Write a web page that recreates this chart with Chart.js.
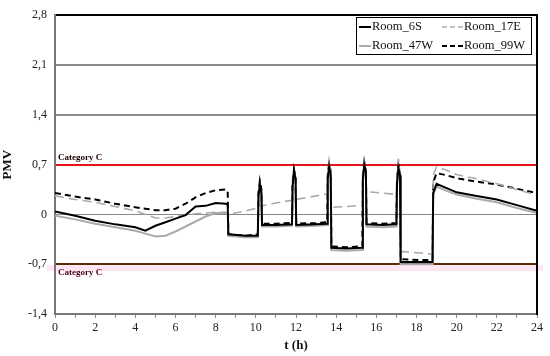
<!DOCTYPE html>
<html>
<head>
<meta charset="utf-8">
<script src="https://cdn.jsdelivr.net/npm/chart.js@4/dist/chart.umd.min.js"></script>
<style>
  html, body { margin: 0; padding: 0; background: #fff; }
  #wrap { width: 550px; height: 356px; position: relative; }
</style>
</head>
<body>
<div id="wrap"><canvas id="graficoPMV"></canvas></div>
<script>
// hours of the day (shared x values)
var hours = [0, 1, 2, 3, 4, 4.5, 5, 5.5, 6, 6.5, 7, 7.5, 8, 8.5, 8.6, 8.63, 9.5,
  10.1, 10.13, 10.2, 10.28, 10.31, 11,
  11.8, 11.83, 11.9, 11.98, 12.01, 13,
  13.55, 13.58, 13.65, 13.73, 13.76, 14.5,
  15.3, 15.33, 15.4, 15.48, 15.51, 16.3,
  17.0, 17.03, 17.1, 17.18, 17.21, 18.1,
  18.8, 18.83, 19.0, 19.5, 20, 21, 22, 23, 24];

var room6S = [0.04, -0.02, -0.09, -0.14, -0.18, -0.23, -0.16, -0.11, -0.06, -0.01, 0.11, 0.12, 0.16, 0.15, 0.14, -0.28, -0.30,
  -0.30, 0.25, 0.42, 0.3, -0.15, -0.15,
  -0.14, 0.4, 0.62, 0.5, -0.15, -0.14,
  -0.13, 0.5, 0.68, 0.55, -0.47, -0.48,
  -0.47, 0.5, 0.7, 0.6, -0.14, -0.15,
  -0.14, 0.45, 0.65, 0.55, -0.67, -0.67,
  -0.67, 0.3, 0.43, 0.37, 0.31, 0.26, 0.21, 0.13, 0.05];

var room17E = [0.26, 0.21, 0.17, 0.11, 0.05, 0.0, -0.05, -0.05, -0.03, -0.01, 0.01, 0.02, 0.03, 0.03, 0.02, 0.0, 0.05,
  0.09, 0.12, 0.14, 0.13, 0.12, 0.16,
  0.2, 0.22, 0.24, 0.22, 0.21, 0.26,
  0.29, 0.5, 0.75, 0.6, 0.1, 0.11,
  0.13, 0.5, 0.78, 0.6, 0.32, 0.3,
  0.28, 0.5, 0.78, 0.6, -0.52, -0.54,
  -0.56, 0.55, 0.67, 0.62, 0.56, 0.5, 0.43, 0.35, 0.27];

var room47W = [-0.02, -0.07, -0.13, -0.18, -0.23, -0.27, -0.31, -0.30, -0.24, -0.17, -0.10, -0.03, 0.02, 0.02, 0.01, -0.30, -0.32,
  -0.32, 0.2, 0.38, 0.28, -0.17, -0.17,
  -0.16, 0.35, 0.58, 0.45, -0.17, -0.16,
  -0.15, 0.45, 0.65, 0.5, -0.50, -0.51,
  -0.50, 0.45, 0.68, 0.55, -0.17, -0.18,
  -0.17, 0.4, 0.62, 0.5, -0.70, -0.70,
  -0.70, 0.28, 0.39, 0.33, 0.28, 0.22, 0.17, 0.09, 0.02];

var room99W = [0.30, 0.25, 0.21, 0.15, 0.10, 0.08, 0.06, 0.06, 0.08, 0.15, 0.24, 0.30, 0.34, 0.35, 0.33, -0.28, -0.30,
  -0.28, 0.3, 0.47, 0.35, -0.13, -0.13,
  -0.12, 0.45, 0.63, 0.5, -0.13, -0.12,
  -0.11, 0.55, 0.72, 0.6, -0.45, -0.46,
  -0.45, 0.55, 0.73, 0.6, -0.12, -0.13,
  -0.12, 0.5, 0.7, 0.6, -0.63, -0.64,
  -0.64, 0.45, 0.58, 0.55, 0.51, 0.46, 0.42, 0.36, 0.30];

var yTicks = [-1.4, -0.7, 0, 0.7, 1.4, 2.1, 2.8];
var categoryLimits = [0.7, -0.7];
var categoryLabel = 'Category C';

var serif = "'Liberation Serif', 'Times New Roman', serif";

function pts(arr) {
  return hours.map(function (t, i) { return { x: t, y: arr[i] }; });
}
function near(a, b) { return Math.abs(a - b) < 1e-6; }

var series = [
  { label: 'Room_6S', data: room6S, color: '#000', width: 2, dash: [] },
  { label: 'Room_17E', data: room17E, color: '#aaa', width: 1.6, dash: [9, 5] },
  { label: 'Room_47W', data: room47W, color: '#aaa', width: 2, dash: [] },
  { label: 'Room_99W', data: room99W, color: '#000', width: 2, dash: [6, 4] }
];

// extras: pink band, right border, Category C labels, legend box
var extrasPlugin = {
  id: 'extras',
  beforeDraw: function (chart) {
    var ctx = chart.ctx, y = chart.scales.y, area = chart.chartArea;
    var yl = y.getPixelForValue(categoryLimits[1]);
    ctx.save();
    ctx.fillStyle = '#fde6f2';
    ctx.fillRect(area.left - 8, yl + 1, area.right - area.left + 14, 6);
    ctx.restore();
  },
  afterDraw: function (chart) {
    var ctx = chart.ctx, y = chart.scales.y, area = chart.chartArea;
    ctx.save();
    ctx.strokeStyle = '#000';
    ctx.lineWidth = 2;
    ctx.beginPath();
    ctx.moveTo(area.right, area.top - 1);
    ctx.lineTo(area.right, area.bottom + 1);
    ctx.stroke();

    ctx.font = 'bold 9px ' + serif;
    ctx.textAlign = 'left';
    ctx.textBaseline = 'middle';
    ctx.fillStyle = '#1a0000';
    ctx.fillText(categoryLabel, area.left + 3, y.getPixelForValue(categoryLimits[0]) - 7);
    ctx.fillStyle = '#4a0010';
    ctx.fillText(categoryLabel, area.left + 3, y.getPixelForValue(categoryLimits[1]) + 8);

    // legend
    var bx = 356, by = 17, bw = 175, bh = 37;
    ctx.fillStyle = '#fff';
    ctx.fillRect(bx, by, bw, bh);
    ctx.strokeStyle = '#000';
    ctx.lineWidth = 1;
    ctx.strokeRect(bx + 0.5, by + 0.5, bw, bh);
    var cols = [{ x0: 359, x1: 371 }, { x0: 442, x1: 463 }];
    var rows = [27, 46];
    ctx.font = '12.5px ' + serif;
    ctx.textBaseline = 'middle';
    series.forEach(function (s, i) {
      var c = cols[i % 2], r = rows[Math.floor(i / 2)];
      ctx.strokeStyle = s.color;
      ctx.lineWidth = s.width;
      ctx.setLineDash(s.dash.length ? [5, 3] : []);
      ctx.beginPath();
      ctx.moveTo(c.x0, r);
      ctx.lineTo(c.x1, r);
      ctx.stroke();
      ctx.setLineDash([]);
      ctx.fillStyle = '#111';
      ctx.fillText(s.label, c.x1 + 1, r);
    });
    ctx.restore();
  }
};

var ctx = document.getElementById('graficoPMV').getContext('2d');
var myChart = new Chart(ctx, {
  type: 'line',
  data: {
    datasets: series.map(function (s) {
      return {
        label: s.label,
        data: pts(s.data),
        borderColor: s.color,
        borderWidth: s.width,
        borderDash: s.dash,
        pointRadius: 0,
        fill: false,
        tension: 0
      };
    })
  },
  options: {
    responsive: true,
    maintainAspectRatio: false,
    animation: false,
    layout: { padding: { top: 12, right: 13, left: 0, bottom: 0 } },
    plugins: {
      legend: { display: false },
      tooltip: { enabled: false }
    },
    scales: {
      x: {
        type: 'linear',
        min: 0,
        max: 24,
        afterFit: function (s) { s.height = 42; },
        ticks: {
          stepSize: 1,
          autoSkip: false,
          maxRotation: 0,
          padding: 3,
          color: '#222',
          font: { family: serif, size: 12 },
          callback: function (v) { return v % 2 === 0 ? String(v) : ''; }
        },
        grid: {
          drawOnChartArea: false,
          drawTicks: true,
          tickLength: 4,
          color: '#888'
        },
        border: { color: '#777', width: 2 },
        title: {
          display: true,
          text: 't (h)',
          color: '#111',
          font: { family: serif, size: 13, weight: 'bold' },
          padding: { top: 0, bottom: 3 }
        }
      },
      y: {
        min: -1.4,
        max: 2.8,
        afterFit: function (s) { s.width = 55; },
        afterBuildTicks: function (s) {
          s.ticks = yTicks.map(function (v) { return { value: v }; });
        },
        ticks: {
          padding: 8,
          color: '#222',
          font: { family: serif, size: 12 },
          callback: function (v) {
            var r = Math.round(v * 10) / 10;
            return r === 0 ? '0' : r.toFixed(1).replace('.', ',');
          }
        },
        grid: {
          drawTicks: false,
          color: function (c) {
            var v = c.tick ? c.tick.value : 0;
            if (near(v, 2.8)) return '#000';
            if (near(v, categoryLimits[0])) return '#e8141c';
            if (near(v, categoryLimits[1])) return '#5a2a08';
            if (near(v, 0)) return '#888';
            return '#8a8a8a';
          },
          lineWidth: function (c) {
            var v = c.tick ? c.tick.value : 0;
            if (near(v, 2.8)) return 2;
            if (near(v, 0)) return 1;
            return 2;
          }
        },
        border: { color: '#777', width: 2 },
        title: {
          display: true,
          text: 'PMV',
          color: '#111',
          font: { family: serif, size: 13, weight: 'bold' },
          padding: { top: 0, bottom: 4 }
        }
      }
    }
  },
  plugins: [extrasPlugin]
});
</script>
</body>
</html>
